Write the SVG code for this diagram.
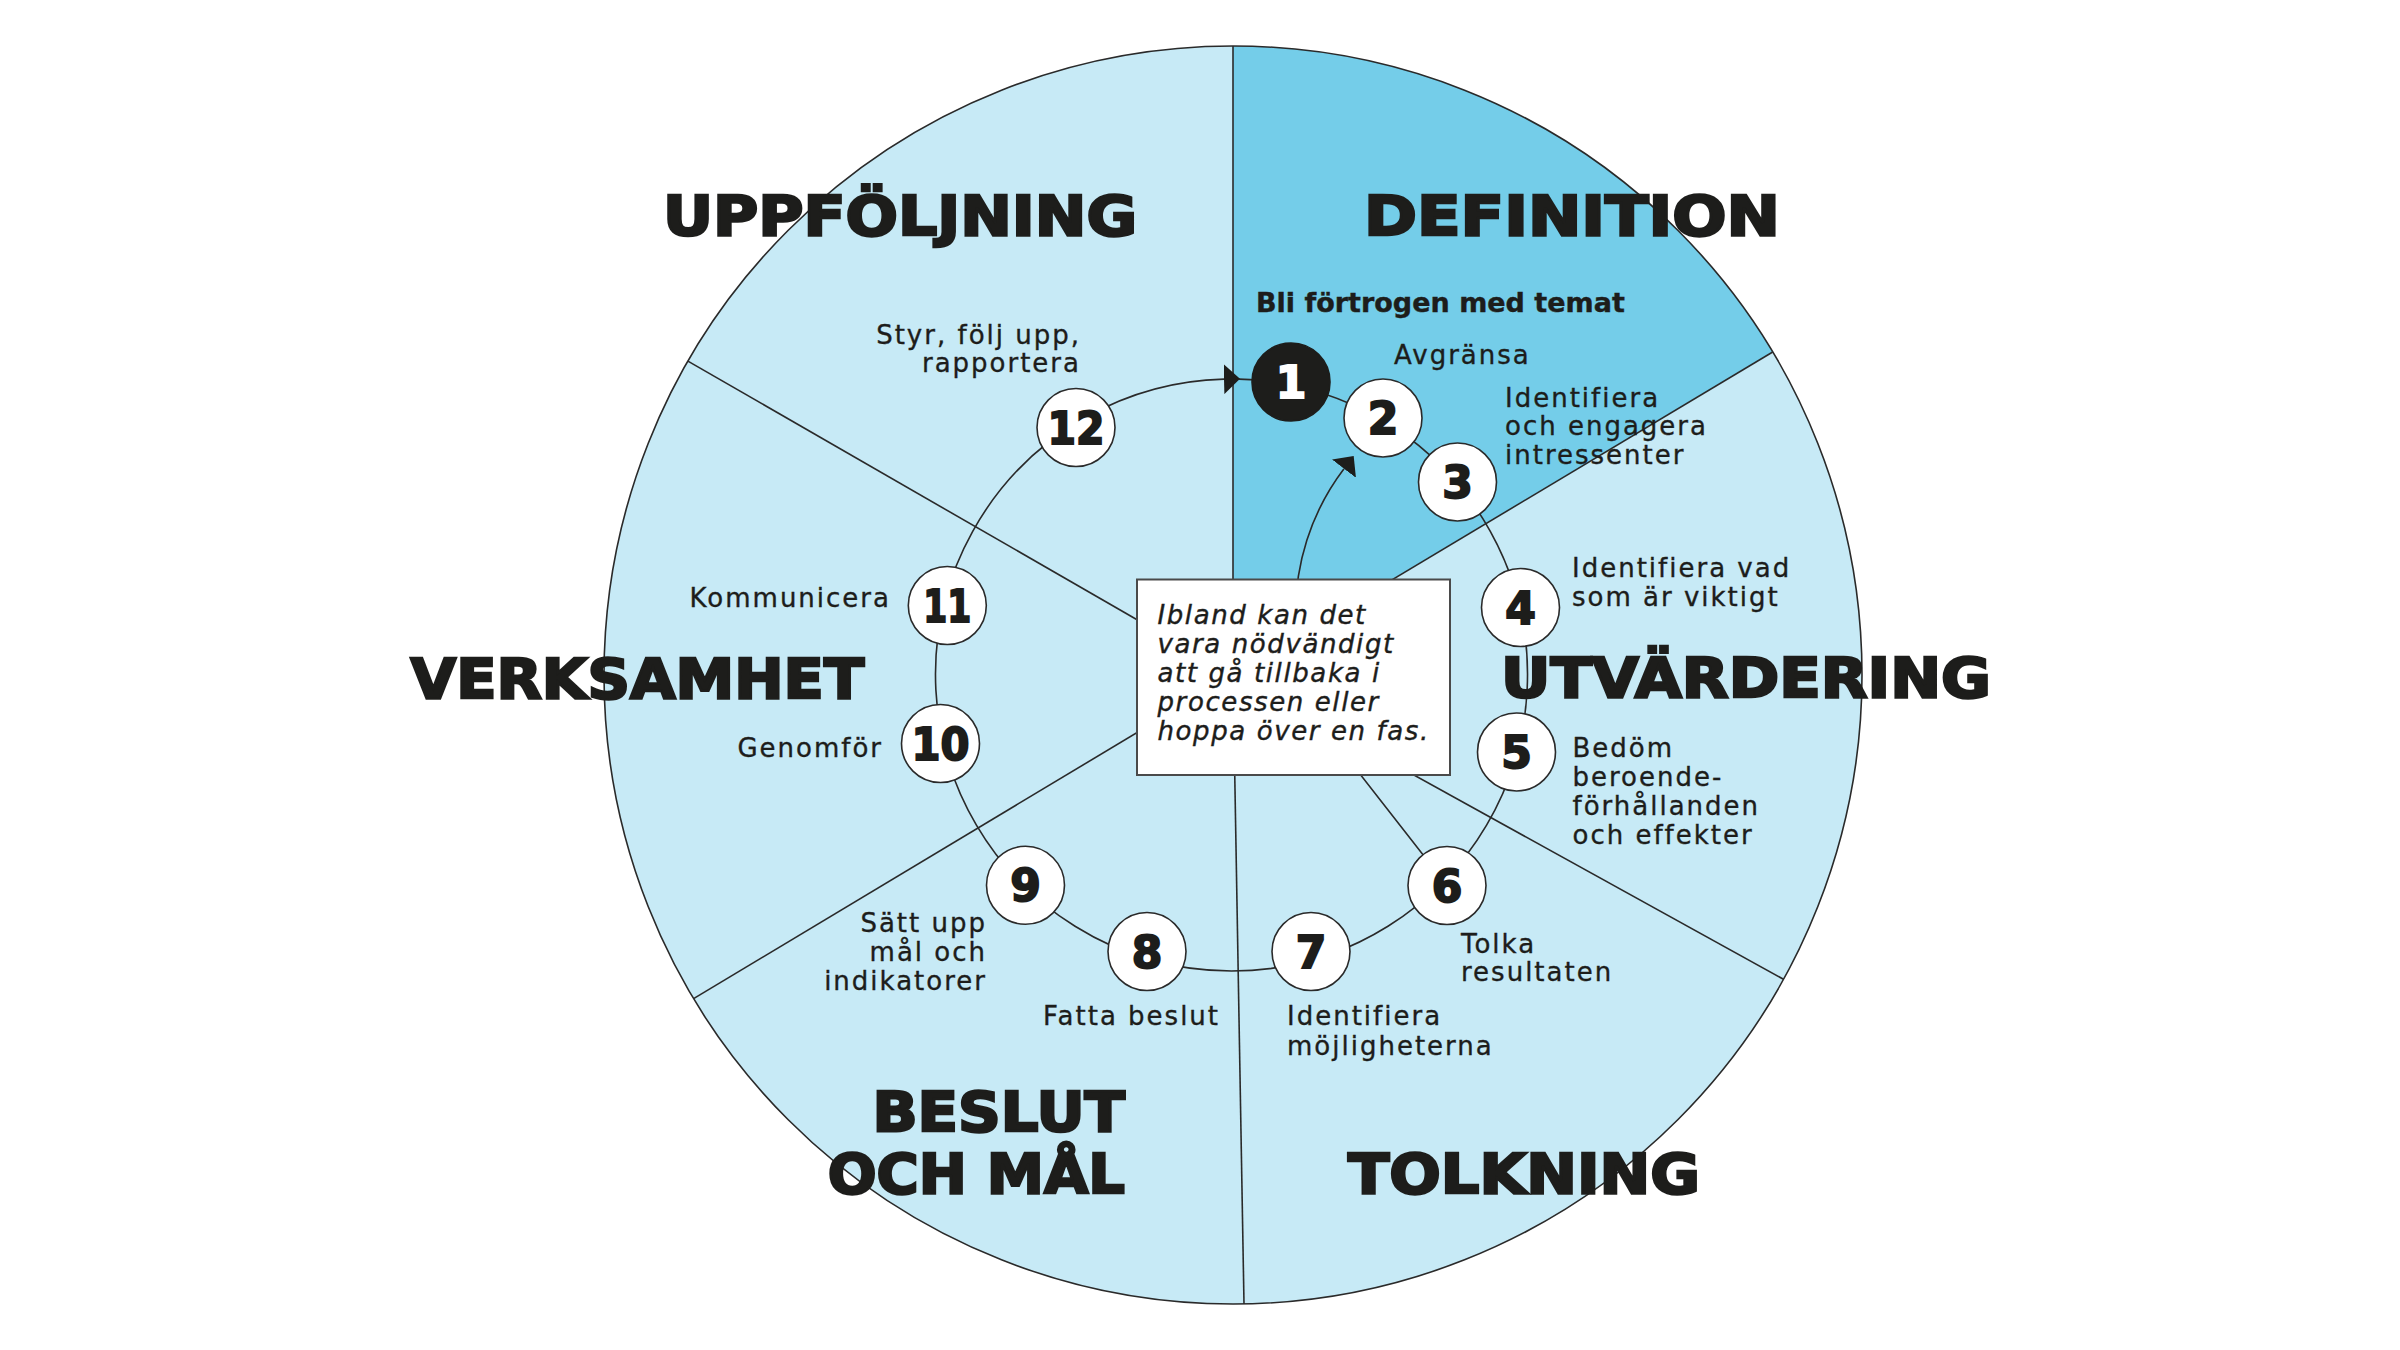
<svg xmlns="http://www.w3.org/2000/svg" width="2400" height="1350" viewBox="0 0 2400 1350">
<defs>
<style>
.sector{fill:#C7EAF6;stroke:none}
.sector-dark{fill:#74CDE9;stroke:none}
.rim{fill:none;stroke:#2a2a2a;stroke-width:1.6}
.div{stroke:#2a2a2a;stroke-width:1.6;fill:none}
.conn{stroke:#2a2a2a;stroke-width:1.6;fill:none}
.node{fill:#ffffff;stroke:#2a2a2a;stroke-width:1.6}
.node-dark{fill:#1d1d1b;stroke:#1d1d1b;stroke-width:1.6}
.num{font-family:'DejaVu Sans',sans-serif;font-weight:bold;font-size:44px;fill:#1d1d1b;stroke:#1d1d1b;stroke-width:2;text-anchor:middle}
.num-w{fill:#ffffff;stroke:#ffffff}
.title{font-family:'DejaVu Sans',sans-serif;font-weight:bold;font-size:56px;fill:#1d1d1b;stroke:#1d1d1b;stroke-width:2.6}
.lbl{font-family:'DejaVu Sans',sans-serif;font-size:26px;fill:#1d1d1b;stroke:#1d1d1b;stroke-width:0.35;letter-spacing:2px}
.lbl-end{text-anchor:end}
.sub{font-family:'DejaVu Sans',sans-serif;font-weight:bold;font-size:27px;fill:#1d1d1b;stroke:#1d1d1b;stroke-width:0.4}
.note{font-family:'DejaVu Sans',sans-serif;font-style:italic;font-size:26px;fill:#1d1d1b;stroke:#1d1d1b;stroke-width:0.4;letter-spacing:1.6px}
.box{fill:#ffffff;stroke:#4a4a4a;stroke-width:2}
</style>
<marker id="arrow" markerUnits="userSpaceOnUse" viewBox="0 0 16 30" refX="0" refY="15" markerWidth="16" markerHeight="30" orient="auto">
<path d="M0,0 L16,15 L0,30 Z" fill="#1d1d1b"/>
</marker>
</defs>

<g id="wheel">
<circle class="sector" cx="1233" cy="675" r="629"/>
<path id="sector-definition" class="sector-dark" d="M1233,675 L1233,46 A629,629 0 0 1 1772.7,352 Z"/>
<g id="dividers">
<line class="div" x1="1233" y1="675" x2="1233" y2="46"/>
<line class="div" x1="1233" y1="675" x2="1772.7" y2="352"/>
<line class="div" x1="1233" y1="675" x2="1783.5" y2="979.3"/>
<line class="div" x1="1233" y1="675" x2="1244" y2="1303.9"/>
<line class="div" x1="1233" y1="675" x2="693.6" y2="998.6"/>
<line class="div" x1="1233" y1="675" x2="687.9" y2="361.1"/>
</g>
<circle class="rim" cx="1233" cy="675" r="629"/>
</g>

<g id="connectors">
<path id="cycle" class="conn" d="M1239,379.1 A296,296 0 1 1 1224,379.1" marker-end="url(#arrow)"/>
<path id="go-back" class="conn" d="M1447,885.5 L1361.5,776 A237,237 0 0 1 1344,468.7" marker-end="url(#arrow)"/>
</g>

<g id="note">
<rect class="box" x="1137" y="579.5" width="313" height="195.5"/>
<text class="note" x="1157.5" y="624">Ibland kan det</text>
<text class="note" x="1157.5" y="653">vara nödvändigt</text>
<text class="note" x="1157.5" y="682">att gå tillbaka i</text>
<text class="note" x="1157.5" y="711">processen eller</text>
<text class="note" x="1157.5" y="739.5">hoppa över en fas.</text>
</g>

<g id="titles">
<text id="t-uppfoljning" class="title" x="663" y="235" textLength="474" lengthAdjust="spacingAndGlyphs">UPPFÖLJNING</text>
<text id="t-definition" class="title" x="1364" y="235" textLength="416" lengthAdjust="spacingAndGlyphs">DEFINITION</text>
<text id="t-utvardering" class="title" x="1501" y="696.6" textLength="490" lengthAdjust="spacingAndGlyphs">UTVÄRDERING</text>
<text id="t-verksamhet" class="title" x="410.6" y="697.7" textLength="453.5" lengthAdjust="spacingAndGlyphs">VERKSAMHET</text>
<text id="t-beslut" class="title" x="872.4" y="1131.4" textLength="252.6" lengthAdjust="spacingAndGlyphs">BESLUT</text>
<text id="t-ochmal" class="title" x="827.7" y="1193" textLength="297.3" lengthAdjust="spacingAndGlyphs">OCH MÅL</text>
<text id="t-tolkning" class="title" x="1348" y="1193" textLength="352" lengthAdjust="spacingAndGlyphs">TOLKNING</text>
</g>

<text id="subtitle" class="sub" x="1256" y="311.6">Bli förtrogen med temat</text>

<g id="node-1">
<circle class="node-dark" cx="1291" cy="382" r="39"/>
<text class="num num-w" x="1291" y="398">1</text>
</g>
<g id="node-2">
<circle class="node" cx="1383" cy="418" r="39"/>
<text class="num" x="1383" y="434">2</text>
<text class="lbl" x="1394" y="364.4">Avgränsa</text>
</g>
<g id="node-3">
<circle class="node" cx="1457.5" cy="482" r="39"/>
<text class="num" x="1457.5" y="498">3</text>
<text class="lbl" x="1505" y="406.5">Identifiera</text>
<text class="lbl" x="1505" y="435.2">och engagera</text>
<text class="lbl" x="1505" y="463.9">intressenter</text>
</g>
<g id="node-4">
<circle class="node" cx="1520.5" cy="607.5" r="39"/>
<text class="num" x="1520.5" y="623.5">4</text>
<text class="lbl" x="1572" y="577">Identifiera vad</text>
<text class="lbl" x="1572" y="606">som är viktigt</text>
</g>
<g id="node-5">
<circle class="node" cx="1516.5" cy="752" r="39"/>
<text class="num" x="1516.5" y="768">5</text>
<text class="lbl" x="1572.5" y="757.4">Bedöm</text>
<text class="lbl" x="1572.5" y="786.1">beroende-</text>
<text class="lbl" x="1572.5" y="814.8">förhållanden</text>
<text class="lbl" x="1572.5" y="844">och effekter</text>
</g>
<g id="node-6">
<circle class="node" cx="1447" cy="885.5" r="39"/>
<text class="num" x="1447" y="901.5">6</text>
<text class="lbl" x="1461" y="952.6">Tolka</text>
<text class="lbl" x="1461" y="981.3">resultaten</text>
</g>
<g id="node-7">
<circle class="node" cx="1311" cy="951.5" r="39"/>
<text class="num" x="1311" y="967.5">7</text>
<text class="lbl" x="1287" y="1025.4">Identifiera</text>
<text class="lbl" x="1287" y="1055.2">möjligheterna</text>
</g>
<g id="node-8">
<circle class="node" cx="1147" cy="951.5" r="39"/>
<text class="num" x="1147" y="967.5">8</text>
<text class="lbl" x="1043" y="1025.4">Fatta beslut</text>
</g>
<g id="node-9">
<circle class="node" cx="1025.5" cy="885.3" r="39"/>
<text class="num" x="1025.5" y="901.3">9</text>
<text class="lbl lbl-end" x="987" y="931.6">Sätt upp</text>
<text class="lbl lbl-end" x="987" y="961">mål och</text>
<text class="lbl lbl-end" x="987" y="990.2">indikatorer</text>
</g>
<g id="node-10">
<circle class="node" cx="940.5" cy="743.5" r="39"/>
<text class="num" x="940.5" y="759.5" textLength="58" lengthAdjust="spacingAndGlyphs">10</text>
<text class="lbl lbl-end" x="883" y="756.7">Genomför</text>
</g>
<g id="node-11">
<circle class="node" cx="947.3" cy="605.5" r="39"/>
<text class="num" x="947.3" y="621.5" textLength="48" lengthAdjust="spacingAndGlyphs">11</text>
<text class="lbl lbl-end" x="891" y="606.7">Kommunicera</text>
</g>
<g id="node-12">
<circle class="node" cx="1076" cy="427.5" r="39"/>
<text class="num" x="1076" y="443.5" textLength="57" lengthAdjust="spacingAndGlyphs">12</text>
<text class="lbl lbl-end" x="1081" y="343.5">Styr, följ upp,</text>
<text class="lbl lbl-end" x="1081" y="371.5">rapportera</text>
</g>
</svg>
